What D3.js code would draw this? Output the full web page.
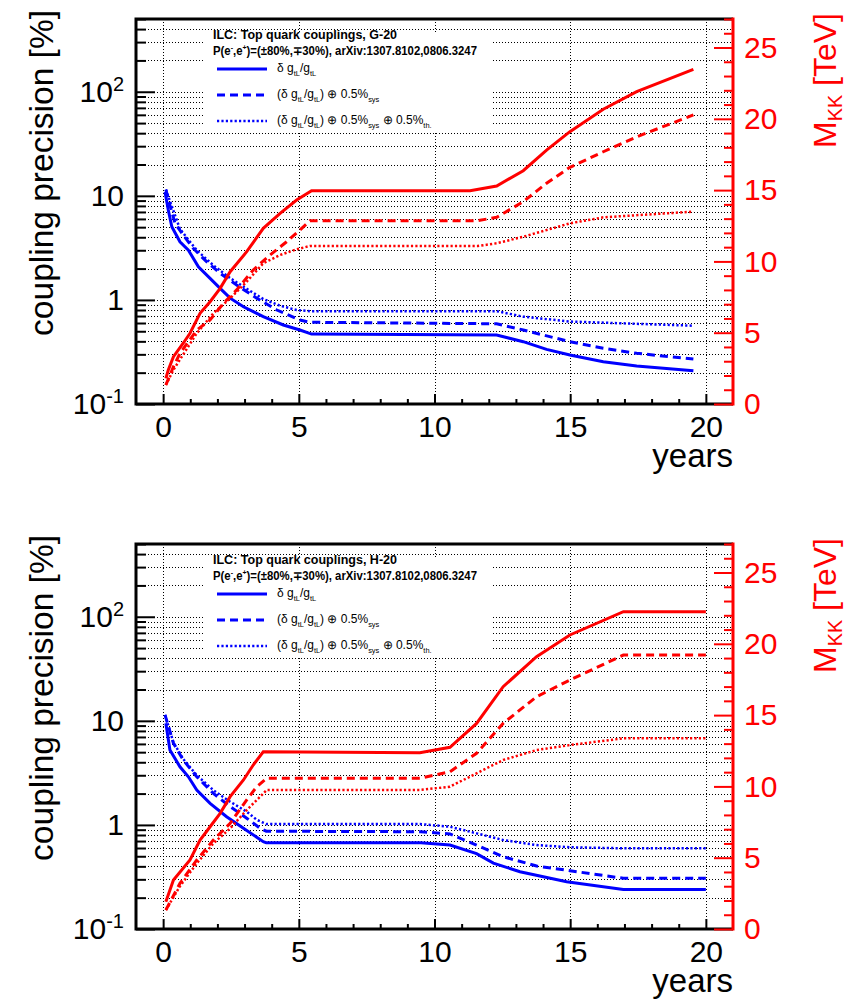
<!DOCTYPE html>
<html><head><meta charset="utf-8">
<script src="https://cdn.jsdelivr.net/npm/d3@7"></script>
<style>
body{margin:0;background:#fff}
svg{display:block}
text{font-family:"Liberation Sans",Arial,Helvetica,sans-serif}
</style>
</head><body>
<svg id="c" width="846" height="999"></svg>
<script>
// ---------------- DATA ----------------
// axis ticks / labels
const xMajorTicks = [0, 5, 10, 15, 20];
const xTickLabels = ["0", "5", "10", "15", "20"];
const yLeftMajorTicks = [0.1, 1, 10, 100];
const yLeftTickLabels = [["10", "-1"], ["1", ""], ["10", ""], ["10", "2"]];
const yRightMajorTicks = [0, 5, 10, 15, 20, 25];
const yRightTickLabels = ["0", "5", "10", "15", "20", "25"];

// G-20 scenario : coupling precision [%] vs years
const g20PrecStat = [[0.07,10.9],[0.19,7.3],[0.32,5.05],[0.62,3.62],[0.93,3.01],[1.30,2.08],[1.73,1.61],[2.10,1.29],[2.47,1.04],[2.96,0.86],[3.69,0.69],[4.43,0.574],[5.04,0.514],[5.47,0.47],[12.29,0.46],[13.27,0.397],[14.13,0.335],[14.99,0.296],[16.22,0.255],[17.45,0.232],[19.54,0.209]];
const g20PrecSys  = [[0.10,11.5],[0.23,8.5],[0.44,5.44],[0.74,4.2],[1.11,3.13],[1.60,2.33],[2.10,1.8],[2.71,1.39],[3.45,1.04],[4.19,0.80],[5.04,0.64],[5.41,0.61],[12.29,0.59],[13.27,0.514],[14.99,0.397],[16.22,0.343],[17.45,0.307],[19.54,0.27]];
const g20PrecTh   = [[0.10,11.5],[0.62,4.8],[1.24,3.0],[1.85,2.15],[2.47,1.62],[3.08,1.28],[3.69,1.02],[4.31,0.88],[4.92,0.80],[5.41,0.78],[12.29,0.78],[13.27,0.69],[14.99,0.62],[19.54,0.565]];
// G-20 scenario : M_KK reach [TeV] vs years
const g20MkkStat = [[0.10,1.8],[0.19,2.38],[0.38,3.32],[0.74,4.26],[0.99,4.96],[1.36,6.36],[1.73,7.17],[2.10,8.11],[2.47,9.28],[3.08,10.68],[3.69,12.32],[4.31,13.37],[4.92,14.3],[5.47,14.96],[11.31,14.96],[12.29,15.29],[13.27,16.36],[14.13,17.81],[14.99,19.1],[16.22,20.67],[17.45,21.9],[19.54,23.47]];
const g20MkkSys  = [[0.10,1.33],[0.38,2.62],[0.62,3.55],[1.24,5.19],[1.73,5.89],[2.22,7.06],[2.71,8.0],[3.32,9.4],[3.94,10.45],[4.55,11.38],[5.04,12.2],[5.41,12.85],[11.6,12.86],[12.29,13.09],[13.27,14.19],[14.13,15.48],[14.99,16.6],[16.22,17.69],[17.45,18.74],[19.54,20.27]];
const g20MkkTh   = [[0.10,1.33],[0.38,2.4],[1.24,4.96],[1.85,6.36],[2.47,7.41],[3.08,8.58],[3.69,9.87],[4.31,10.45],[4.92,10.85],[5.41,11.08],[11.6,11.08],[12.29,11.27],[13.27,11.73],[14.99,12.67],[16.22,13.09],[19.54,13.49]];

// H-20 scenario : coupling precision [%] vs years
const h20PrecStat = [[0.10,9.5],[0.25,5.24],[0.62,3.62],[0.93,2.9],[1.24,2.16],[1.73,1.61],[2.34,1.2],[2.96,0.93],[3.69,0.69],[3.80,0.675],[9.50,0.675],[10.57,0.64],[11.55,0.53],[12.17,0.43],[13.15,0.355],[14.87,0.285],[16.96,0.24],[20.0,0.24]];
const h20PrecSys  = [[0.07,11.4],[0.38,6.08],[0.74,4.2],[1.24,2.9],[1.85,2.01],[2.47,1.5],[3.08,1.16],[3.57,0.93],[3.80,0.87],[9.50,0.86],[10.57,0.82],[11.55,0.64],[12.53,0.495],[13.76,0.403],[14.99,0.363],[16.96,0.307],[20.0,0.307]];
const h20PrecTh   = [[0.07,11.4],[0.38,6.2],[0.74,4.3],[1.24,3.0],[1.85,2.16],[2.47,1.67],[3.08,1.34],[3.45,1.12],[3.80,1.02],[9.46,1.02],[10.57,0.96],[11.55,0.83],[12.53,0.716],[13.76,0.64],[14.99,0.61],[16.96,0.596],[20.0,0.596]];
// H-20 scenario : M_KK reach [TeV] vs years
const h20MkkStat = [[0.10,1.91],[0.38,3.44],[0.99,4.84],[1.36,6.24],[1.73,7.17],[2.10,8.11],[2.47,9.28],[2.96,10.45],[3.32,11.5],[3.69,12.43],[9.46,12.36],[10.57,12.74],[11.55,14.42],[12.53,16.99],[13.76,19.1],[14.99,20.62],[16.96,22.25],[20.0,22.25]];
const h20MkkSys  = [[0.10,1.33],[0.62,3.2],[1.24,4.84],[1.85,6.24],[2.47,7.41],[3.08,9.05],[3.45,9.98],[3.82,10.57],[9.46,10.57],[10.57,11.03],[11.55,12.32],[12.53,14.42],[13.76,16.29],[14.99,17.46],[16.96,19.21],[20.0,19.21]];
const h20MkkTh   = [[0.10,1.33],[0.62,3.0],[1.24,4.6],[1.85,6.0],[2.47,7.06],[3.08,8.34],[3.69,9.5],[3.82,9.75],[9.46,9.75],[10.57,9.98],[11.55,10.92],[12.53,11.85],[13.76,12.55],[14.99,12.9],[16.96,13.37],[20.0,13.37]];

const panelTitles = ["ILC: Top quark couplings, G-20", "ILC: Top quark couplings, H-20"];
const panelOffsets = [0, 525];

// ---------------- DRAW ----------------
const svg = d3.select("#c");
const BLUE = "#0000ff", RED = "#ff0000";
const FL = 136, FR = 733, FT = 19, FB = 404;
const styles = [
  {w: 3, dash: null},
  {w: 3, dash: "8,5"},
  {w: 2.5, dash: "2.2,2.2"}
];

function richText(sel, parts, base, subShift) {
  let shift = 0;
  parts.forEach(p => {
    const ts = sel.append("tspan").text(p.t);
    let target = 0, fs = null;
    if (p.sub) { target = base * (subShift || 0.3); fs = base * 0.62; }
    if (p.sup) { target = -base * 0.4; fs = base * 0.62; }
    if (fs) ts.attr("font-size", fs);
    ts.attr("dy", target - shift);
    shift = target;
  });
}

function drawPanel(idx, prec, mkk) {
  const off = panelOffsets[idx];
  const g = svg.append("g").attr("transform", `translate(0,${off})`);
  const x = d3.scaleLinear().domain([-1, 21]).range([FL, FR]);
  const y = d3.scaleLog().domain([0.1, 500]).range([FB, FT]);
  const yr = d3.scaleLinear().domain([0, 27]).range([FB, FT]);

  // grid
  const grid = g.append("g").attr("stroke", "#000").attr("stroke-width", 1).attr("stroke-dasharray", "1,2");
  grid.selectAll("line.h").data(y.ticks()).join("line")
    .attr("x1", FL).attr("x2", FR).attr("y1", d => Math.round(y(d)) + 0.5).attr("y2", d => Math.round(y(d)) + 0.5);
  grid.selectAll("line.v").data(xMajorTicks).join("line")
    .attr("x1", d => Math.round(x(d)) + 0.5).attr("x2", d => Math.round(x(d)) + 0.5).attr("y1", FT).attr("y2", FB);

  // curves
  const clipId = "clip" + idx;
  g.append("clipPath").attr("id", clipId).append("rect").attr("x", FL).attr("y", FT).attr("width", FR - FL).attr("height", FB - FT);
  const curves = g.append("g").attr("clip-path", `url(#${clipId})`).attr("fill", "none");
  const lineB = d3.line().x(d => x(d[0])).y(d => y(d[1]));
  const lineR = d3.line().x(d => x(d[0])).y(d => yr(d[1]));
  prec.forEach((s, i) => {
    curves.append("path").attr("d", lineB(s)).attr("stroke", BLUE)
      .attr("stroke-width", styles[i].w).attr("stroke-dasharray", styles[i].dash);
  });
  mkk.forEach((s, i) => {
    curves.append("path").attr("d", lineR(s)).attr("stroke", RED)
      .attr("stroke-width", styles[i].w).attr("stroke-dasharray", styles[i].dash);
  });

  // legend
  const lg = g.append("g");
  lg.append("rect").attr("x", 204).attr("y", 32).attr("width", 288).attr("height", 99).attr("fill", "#fff");
  lg.append("text").attr("x", 213).attr("y", 39).attr("font-size", 12).attr("font-weight", "bold")
    .attr("textLength", 184).attr("lengthAdjust", "spacingAndGlyphs").text(panelTitles[idx]);
  const t2 = lg.append("text").attr("x", 213).attr("y", 55).attr("font-size", 12).attr("font-weight", "bold")
    .attr("textLength", 264).attr("lengthAdjust", "spacingAndGlyphs");
  richText(t2, [{t: "P(e"}, {t: "-", sup: true}, {t: ",e"}, {t: "+", sup: true}, {t: ")=(±80%,∓30%), arXiv:1307.8102,0806.3247"}], 12);
  const entries = [
    [{t: "δ g"}, {t: "tL", sub: true}, {t: "/g"}, {t: "tL", sub: true}],
    [{t: "(δ g"}, {t: "tL", sub: true}, {t: "/g"}, {t: "tL", sub: true}, {t: ") ⊕ 0.5%"}, {t: "sys", sub: true}],
    [{t: "(δ g"}, {t: "tL", sub: true}, {t: "/g"}, {t: "tL", sub: true}, {t: ") ⊕ 0.5%"}, {t: "sys", sub: true}, {t: " ⊕ 0.5%"}, {t: "th.", sub: true}]
  ];
  const ey = [69, 95, 121];
  entries.forEach((e, i) => {
    lg.append("line").attr("x1", 217).attr("x2", 267).attr("y1", ey[i]).attr("y2", ey[i])
      .attr("stroke", BLUE).attr("stroke-width", styles[i].w).attr("stroke-dasharray", styles[i].dash);
    const t = lg.append("text").attr("x", 277).attr("y", ey[i] + 3).attr("font-size", 12);
    richText(t, e, 12);
  });

  // frame
  const fr = g.append("g").attr("stroke", "#000").attr("stroke-width", 3).attr("fill", "none");
  fr.append("path").attr("d", `M${FR},${FT}H${FL}V${FB}H${FR}`);

  // left axis
  const axL = g.append("g").attr("transform", `translate(${FL},0)`)
    .call(d3.axisLeft(y).tickValues(yLeftMajorTicks).tickSizeInner(-19).tickSizeOuter(0).tickPadding(12));
  const axLm = g.append("g").attr("transform", `translate(${FL},0)`)
    .call(d3.axisLeft(y).tickValues(y.ticks().filter(v => !yLeftMajorTicks.includes(v))).tickSizeInner(-10).tickSizeOuter(0).tickFormat(""));
  [axL, axLm].forEach(a => { a.select(".domain").remove(); a.selectAll("line").attr("stroke", "#000").attr("stroke-width", 2); });
  axL.selectAll("text").attr("font-size", 30).attr("fill", "#000").each(function(d, i) {
    const s = d3.select(this).text("");
    const lab = yLeftTickLabels[i];
    s.append("tspan").text(lab[0]);
    if (lab[1]) s.append("tspan").attr("font-size", 20).attr("dy", "-11").text(lab[1]);
  });

  // bottom axis
  const axB = g.append("g").attr("transform", `translate(0,${FB})`)
    .call(d3.axisBottom(x).tickValues(xMajorTicks).tickSizeInner(-10).tickSizeOuter(0).tickPadding(12).tickFormat((d, i) => xTickLabels[i]));
  const axBm = g.append("g").attr("transform", `translate(0,${FB})`)
    .call(d3.axisBottom(x).tickValues(x.ticks(22).filter(v => v > 0 && v < 20 && !xMajorTicks.includes(v))).tickSizeInner(-5).tickSizeOuter(0).tickFormat(""));
  [axB, axBm].forEach(a => { a.select(".domain").remove(); a.selectAll("line").attr("stroke", "#000").attr("stroke-width", 2); });
  axB.selectAll("text").attr("font-size", 30).attr("fill", "#000");

  // right axis (red)
  g.append("line").attr("x1", FR).attr("x2", FR).attr("y1", FT - 1.5).attr("y2", FB + 1.5).attr("stroke", RED).attr("stroke-width", 3);
  const axR = g.append("g").attr("transform", `translate(${FR},0)`)
    .call(d3.axisRight(yr).tickValues(yRightMajorTicks).tickSizeInner(-19).tickSizeOuter(0).tickPadding(11).tickFormat((d, i) => yRightTickLabels[i]));
  const axRm = g.append("g").attr("transform", `translate(${FR},0)`)
    .call(d3.axisRight(yr).tickValues(yr.ticks(27).filter(v => !yRightMajorTicks.includes(v))).tickSizeInner(-9).tickSizeOuter(0).tickFormat(""));
  [axR, axRm].forEach(a => { a.select(".domain").remove(); a.selectAll("line").attr("stroke", RED).attr("stroke-width", 2); });
  axR.selectAll("text").attr("font-size", 30).attr("fill", RED);

  // axis titles
  g.append("text").attr("transform", "translate(53,10) rotate(-90)").attr("text-anchor", "end")
    .attr("font-size", 33.5).attr("fill", "#000").text("coupling precision [%]");
  g.append("text").attr("x", FR).attr("y", 467).attr("text-anchor", "end")
    .attr("font-size", 33).attr("fill", "#000").text("years");
  const mt = g.append("text").attr("transform", "translate(836,13) rotate(-90)").attr("text-anchor", "end")
    .attr("font-size", 32).attr("fill", RED);
  richText(mt, [{t: "M"}, {t: "KK", sub: true}, {t: " [TeV]"}], 32, 0.2);
}

drawPanel(0, [g20PrecStat, g20PrecSys, g20PrecTh], [g20MkkStat, g20MkkSys, g20MkkTh]);
drawPanel(1, [h20PrecStat, h20PrecSys, h20PrecTh], [h20MkkStat, h20MkkSys, h20MkkTh]);
</script>
</body></html>
